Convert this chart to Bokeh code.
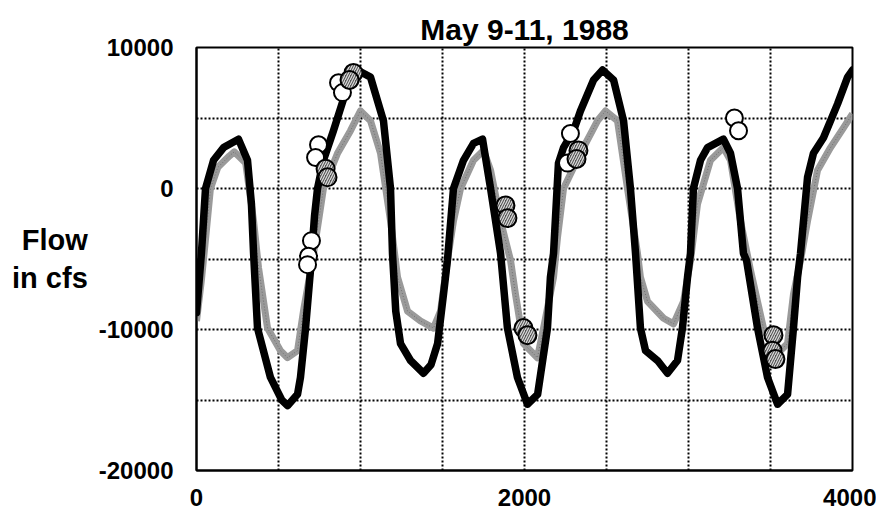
from bokeh.plotting import figure
from bokeh.models import FixedTicker
from bokeh.embed import file_html
from bokeh.resources import INLINE

# ---- data ----
black_t = [0, 30, 55, 104, 165, 256, 311, 335, 348, 372, 451, 520, 555, 616, 634, 665, 695,
           720, 738, 774, 835, 920, 980, 1061, 1140, 1183, 1195, 1215, 1244, 1305, 1384, 1430,
           1470, 1506, 1530, 1567, 1628, 1689, 1744, 1793, 1854, 1896, 1957, 2018, 2080, 2140,
           2158, 2177, 2207, 2238, 2299, 2341, 2421, 2476, 2543, 2604, 2646, 2677, 2707, 2738,
           2811, 2872, 2933, 2963, 2994, 3012, 3030, 3073, 3116, 3213, 3256, 3299, 3335, 3354,
           3421, 3482, 3543, 3604, 3640, 3665, 3683, 3726, 3762, 3823, 3909, 3970, 4000]
black_v = [-8800, -4600, 0, 2000, 2900, 3500, 2000, -1100, -4600, -9900, -13400, -15000, -15400,
           -14600, -13400, -9900, -5800, -1900, 0, 2000, 4100, 7200, 8400, 7900, 4800, 0, -4600,
           -8700, -11000, -12200, -13100, -12500, -11000, -7500, -5100, 0, 2000, 3200, 3500, 0,
           -4600, -9900, -13400, -15300, -14600, -9900, -6300, -4600, 1800, 2900, 4100, 5500,
           7700, 8400, 7700, 4800, 0, -4600, -9900, -11500, -12200, -13100, -12200, -9900, -6300,
           -4600, 0, 2000, 2900, 3500, 2500, 0, -4600, -5100, -9900, -13400, -15300, -14600,
           -9900, -6300, -4600, 800, 2500, 3600, 6000, 7900, 8400]

gray_t = [0, 30, 60, 85, 130, 200, 230, 300, 348, 378, 433, 512, 555, 616, 652, 707, 744, 774,
          860, 939, 1000, 1061, 1122, 1183, 1226, 1287, 1366, 1445, 1488, 1530, 1567, 1610, 1689,
          1750, 1793, 1854, 1915, 1945, 1994, 2079, 2116, 2177, 2201, 2238, 2341, 2445, 2494,
          2567, 2628, 2689, 2707, 2750, 2848, 2909, 2970, 3012, 3055, 3134, 3213, 3256, 3317,
          3378, 3457, 3543, 3604, 3640, 3683, 3726, 3787, 3866, 3945, 4000]
gray_v = [-9400, -6500, -3000, 0, 1500, 2300, 2600, 1800, -2300, -5600, -9900, -11500, -12000,
          -11500, -8700, -5100, -2300, 0, 2500, 4100, 5500, 4800, 2500, -2300, -6300, -8700,
          -9400, -9900, -8700, -5100, -2300, 0, 2000, 2700, 1300, -2300, -5100, -7500, -11000,
          -12000, -9900, -6300, -3500, 0, 2500, 4800, 5500, 4800, 0, -4600, -6300, -8000, -9200,
          -9600, -8000, -5100, -1100, 2000, 2900, 2000, -2300, -5800, -9900, -11700, -11000,
          -7500, -5100, -2300, 1300, 2900, 4300, 5300]

open_t = [701, 683, 677, 744, 726, 866, 890, 2280, 2262, 3280, 3305]
open_v = [-3700, -4800, -5400, 3100, 2200, 7500, 6800, 3900, 1800, 5000, 4100]

hatch_t = [957, 933, 787, 799, 1884, 1896, 1994, 2018, 2329, 2317, 3518, 3512, 3530]
hatch_v = [8200, 7700, 1400, 800, -1200, -2100, -9900, -10400, 2700, 2100, -10400, -11500, -12100]

x_labels = [0, 2000, 4000]
y_labels = [-20000, -10000, 0, 10000]
y_label_text = {-20000: "-20000", -10000: "-10000", 0: "0", 10000: "10000"}
x_grid = [500, 1000, 1500, 2000, 2500, 3000, 3500]
y_grid = [-15000, -10000, -5000, 0, 5000]

FONT = "Liberation Sans"

p = figure(width=876, height=512, output_backend="svg", toolbar_location=None,
           x_range=(0, 4000), y_range=(-20000, 10000),
           min_border_left=196, min_border_right=24, min_border_top=47, min_border_bottom=42,
           title="May 9-11, 1988")

p.title.align = "center"
p.title.text_font = FONT
p.title.text_font_style = "bold"
p.title.text_font_size = "30px"
p.title.text_color = "black"
p.title.standoff = 4

for ax in (p.xaxis[0], p.yaxis[0]):
    ax.major_tick_line_color = None
    ax.minor_tick_line_color = None
    ax.axis_line_color = "black"
    ax.axis_line_width = 2
    ax.major_label_text_font = FONT
    ax.major_label_text_font_style = "bold"
    ax.major_label_text_font_size = "24px"
    ax.major_label_text_color = "black"

p.xaxis.ticker = FixedTicker(ticks=x_labels)
p.yaxis.ticker = FixedTicker(ticks=y_labels)
p.yaxis.major_label_overrides = y_label_text
p.xaxis.major_label_standoff = 12
p.yaxis.major_label_standoff = 17

p.yaxis.axis_label = "Flow\nin cfs"
p.yaxis.axis_label_orientation = "horizontal"
p.yaxis.axis_label_text_font = FONT
p.yaxis.axis_label_text_font_style = "bold"
p.yaxis.axis_label_text_font_size = "29px"
p.yaxis.axis_label_text_color = "black"
p.yaxis.axis_label_standoff = 8

p.xgrid.ticker = FixedTicker(ticks=x_grid)
p.ygrid.ticker = FixedTicker(ticks=y_grid)
for g in (p.xgrid[0], p.ygrid[0]):
    g.grid_line_color = "black"
    g.grid_line_width = 2
    g.grid_line_dash = "2 2"
    g.grid_line_alpha = 1.0

p.outline_line_color = "black"
p.outline_line_width = 2
p.outline_line_alpha = 1.0
p.background_fill_color = "white"
p.border_fill_color = "white"

p.line(gray_t, gray_v, line_color="#9a9a9a", line_width=7, line_join="round")
p.line(gray_t, gray_v, line_color="#6e6e6e", line_width=1, line_dash="1 2")
p.line(black_t, black_v, line_color="black", line_width=7.5, line_join="round", line_cap="round")

p.scatter(open_t, open_v, size=17, marker="circle", fill_color="white",
          line_color="black", line_width=2)
p.scatter(hatch_t, hatch_v, size=18, marker="circle", fill_color="#555555",
          hatch_pattern="right_diagonal_line", hatch_color="#dddddd", hatch_scale=5,
          hatch_weight=1.2, line_color="black", line_width=2)

open("out.html", "w").write(file_html(p, INLINE))
